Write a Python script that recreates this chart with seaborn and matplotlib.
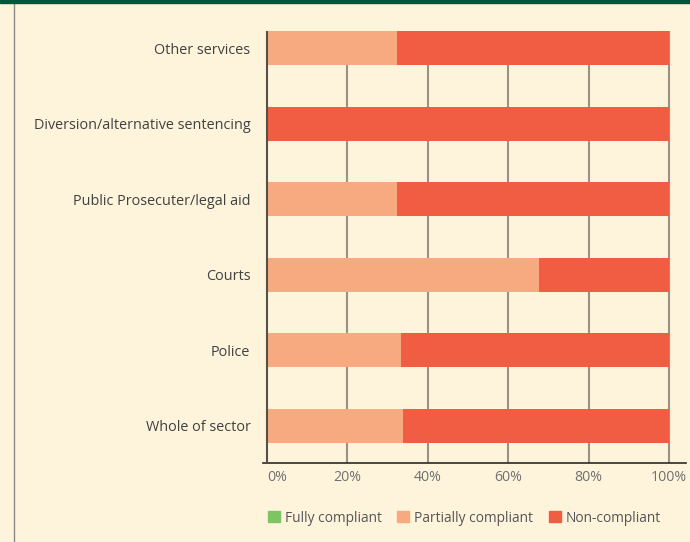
import matplotlib
matplotlib.use("Agg")
import matplotlib.pyplot as plt
import matplotlib.patches as mpatches
from matplotlib.lines import Line2D
import seaborn as sns
import pandas as pd

categories = ["Other services", "Diversion/alternative sentencing",
              "Public Prosecuter/legal aid", "Courts", "Police", "Whole of sector"]
fully = [0, 0, 0, 0, 0, 0]
partially = [32.3, 0, 32.3, 67.7, 33.3, 33.8]
non = [67.7, 100, 67.7, 32.3, 66.7, 66.2]
series_names = ["Fully compliant", "Partially compliant", "Non-compliant"]
colors = ["#7DC463", "#F7A980", "#F15D42"]
xticks = [0, 20, 40, 60, 80, 100]
xtick_labels = ["0%", "20%", "40%", "60%", "80%", "100%"]

bg = "#FEF4DC"
sns.set_theme(style="white")
plt.rcParams["font.family"] = ["Open Sans", "DejaVu Sans"]

fig = plt.figure(figsize=(6.9, 5.42), dpi=100, facecolor=bg)
ax = fig.add_axes([263/690, 1-463/542, (686-263)/690, (463-31)/542])
ax.set_facecolor(bg)

df = pd.DataFrame({"cat": categories, "full": fully, "part": partially, "non": non})
df["c_full"] = df["full"]
df["c_part"] = df["full"] + df["part"]
df["c_non"] = df["full"] + df["part"] + df["non"]

# gridlines behind
for t in xticks[1:]:
    ax.axvline(t, color="#9a9283", lw=1.5, zorder=0)

for col, c in zip(["c_non", "c_part", "c_full"], colors[::-1]):
    sns.barplot(data=df, y="cat", x=col, orient="h", color=c, width=0.45,
                order=categories, ax=ax, saturation=1, zorder=2, linewidth=0)

ax.axvline(0, color="#555048", lw=1.5, zorder=3)
ax.set_xlim(-1, 104.2)
ax.set_ylim(5.49, -0.225)
for s in ["top", "right", "left"]:
    ax.spines[s].set_visible(False)
ax.spines["bottom"].set_color("#2a2a2a")
ax.spines["bottom"].set_linewidth(1.2)
ax.set_xlabel("")
ax.set_ylabel("")
ax.set_xticks(xticks)
ax.set_xticklabels(xtick_labels, color="#707070", fontsize=10.2)
ax.get_xticklabels()[0].set_horizontalalignment("left")
ax.tick_params(axis="x", length=4, width=1.5, color="#9a9283", pad=1)
ax.tick_params(axis="y", length=0, pad=9, labelsize=10.4, labelcolor="#404040")

# top green band and left border
fig.add_artist(plt.Rectangle((0, 1-3/542), 1, 3/542, transform=fig.transFigure,
                             color="#00553A", zorder=5))
fig.add_artist(Line2D([14/690, 14/690], [0, 1-3/542], transform=fig.transFigure,
                      color="#8a8a8a", lw=1))

handles = [mpatches.Patch(color=c, label=n) for c, n in zip(colors, series_names)]
leg = fig.legend(handles=handles, loc="center left", bbox_to_anchor=(268/690, 1-518/542),
                 ncol=3, frameon=False, fontsize=9.9, handlelength=0.87, handleheight=0.87,
                 handletextpad=0.35, columnspacing=1.15, labelcolor="#555555",
                 borderpad=0.0, borderaxespad=0.0)

fig.savefig("out.png", dpi=100, facecolor=bg)
